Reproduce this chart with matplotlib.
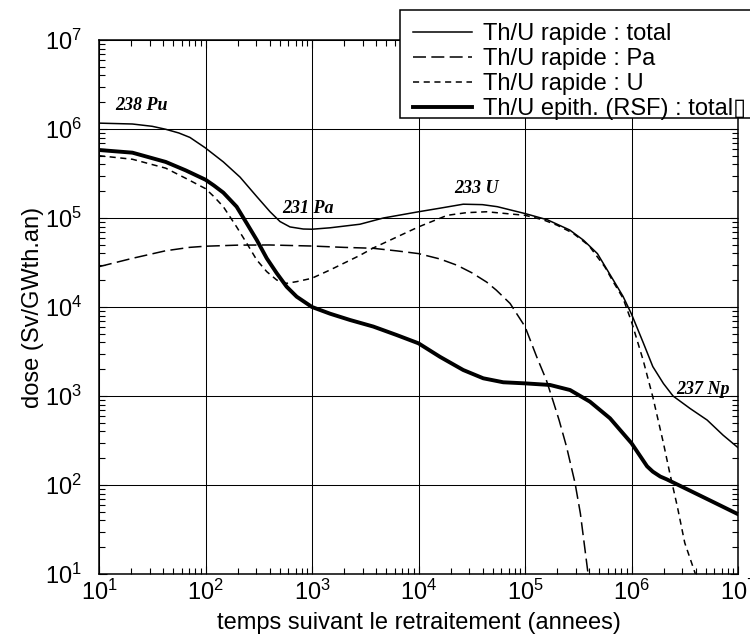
import matplotlib
matplotlib.use("Agg")
import matplotlib.pyplot as plt
from matplotlib.patches import Rectangle

plt.rcParams['font.family'] = ['Liberation Sans', 'DejaVu Sans']
plt.rcParams['mathtext.fontset'] = 'custom'
plt.rcParams['mathtext.rm'] = 'Liberation Sans'
plt.rcParams['mathtext.it'] = 'Liberation Sans:italic'
plt.rcParams['mathtext.bf'] = 'Liberation Sans:bold'

# ---- data (years, Sv/GWth.an) ----
t_total = [10, 20.6, 31.6, 42.3, 56.2, 71.4, 99, 147, 211, 303, 404, 501, 621, 828,
           1000, 1476, 2818, 4677, 1e4, 15850, 26300, 39810, 54950, 1e5, 162200,
           263000, 354800, 478600, 676100, 831800, 1e6, 1.288e6, 1.585e6, 1.995e6,
           2.455e6, 3.548e6, 5.129e6, 7.244e6, 1e7]
d_total = [1.164e6, 1.138e6, 1.072e6, 9.93e5, 9.02e5, 8.04e5, 6.17e5, 4.27e5, 2.88e5,
           1.74e5, 1.175e5, 9.12e4, 7.94e4, 7.52e4, 7.48e4, 7.76e4, 8.51e4, 1.0e5,
           1.175e5, 1.288e5, 1.429e5, 1.413e5, 1.340e5, 1.122e5, 9.55e4, 7.33e4,
           5.62e4, 3.98e4, 2.0e4, 1.32e4, 8.32e3, 3.98e3, 2.14e3, 1.38e3, 1.0e3,
           724, 537, 363, 263]

t_pa = [10, 20.6, 42.3, 70.8, 100, 200, 398, 1000, 1995, 3715, 6310, 1e4, 15850,
        22910, 31620, 43650, 53700, 72440, 1e5, 128800, 158500, 186200, 208900,
        245500, 295100, 331100, 398100]
d_pa = [28380, 35240, 42850, 46770, 48190, 49550, 49770, 48420, 46770, 45710, 42660,
        39810, 34670, 29510, 24270, 19050, 15490, 10960, 6026, 2754, 1514, 832, 537,
        269, 105, 47.9, 8.5]

t_u = [10, 20.6, 42.3, 65.2, 100, 120, 147, 196, 244, 303, 376, 467, 578, 718, 993,
       1476, 2818, 3715, 1e4, 18620, 28180, 43650, 1e5, 147900, 199500, 281800,
       398100, 562300, 676100, 831800, 1e6, 1.288e6, 1.585e6, 1.995e6, 2.291e6,
       2.692e6, 3.162e6, 3.981e6]
d_u = [501200, 457100, 363100, 279300, 213800, 173800, 134000, 79430, 52000, 33730,
       24950, 20090, 18450, 19280, 20990, 26060, 38020, 45710, 79430, 107200, 114800,
       117500, 107200, 95500, 83180, 67610, 48980, 28180, 19050, 12590, 6839, 2512,
       977, 295, 135, 57.5, 22.4, 10]

t_rsf = [10, 20.6, 42.3, 65.2, 100, 120, 147, 196, 244, 303, 376, 467, 578, 718, 1000,
         1476, 2275, 3767, 6237, 1e4, 15920, 26300, 40550, 62520, 1e5, 171800, 264900,
         407400, 628100, 1e6, 1.4e6, 1.585e6, 1.862e6, 2.138e6, 3.548e6, 5.821e6, 1e7]
d_rsf = [580800, 542000, 426600, 342800, 269200, 231700, 192800, 134000, 87100,
         56620, 35240, 23930, 16900, 13060, 10000, 8414, 7145, 6026, 4842, 3908, 2754,
         1959, 1581, 1426, 1387, 1330, 1167, 863, 562, 295, 162.2, 141.3, 124.5,
         115.9, 86.3, 64.6, 47.0]

labels = ["Th/U rapide : total", "Th/U rapide : Pa", "Th/U rapide : U",
          "Th/U epith. (RSF) : total\u25af"]

annotations = ["238 Pu", "231 Pa", "233 U", "237 Np"]
ann_t = [24.8, 916, 34700, 4.68e6]
ann_d = [1.82e6, 1.29e5, 2.12e5, 1175]

# ---- figure ----
fig = plt.figure(figsize=(7.5, 6.41), dpi=100)
ax = fig.add_axes([99/750, 1-574/641, (738-99)/750, (574-40)/641])
ax.set_xscale('log')
ax.set_yscale('log')
ax.set_xlim(10, 1e7)
ax.set_ylim(10, 1e7)

thin = 1.1
l1, = ax.plot(t_total, d_total, color='black', lw=thin, solid_joinstyle='round')
l2, = ax.plot(t_pa, d_pa, color='black', lw=thin, dashes=(8.5, 3.5))
l3, = ax.plot(t_u, d_u, color='black', lw=thin, dashes=(4, 3))
l4, = ax.plot(t_rsf, d_rsf, color='black', lw=2.8, solid_joinstyle='round')

for txt, x, y in zip(annotations, ann_t, ann_d):
    ax.text(x, y, txt, ha='center', va='center', fontsize=13,
            family='Liberation Serif', fontweight='bold', fontstyle='italic')

ax.grid(True, which='major', color='black', lw=0.75)
ax.tick_params(which='both', direction='in', top=True, right=True, labelsize=17)
ax.tick_params(which='major', length=6, width=0.8)
ax.tick_params(which='minor', length=4, width=0.8)
ax.tick_params(axis='x', pad=4)
ax.tick_params(axis='y', pad=12)
for s in ax.spines.values():
    s.set_linewidth(1.1)

ax.set_xlabel("temps suivant le retraitement (annees)", fontsize=17, labelpad=5)
ax.set_ylabel("dose (Sv/GWth.an)", fontsize=17, labelpad=1)

# legend box (extends past right edge as in original)
rect = Rectangle((400/750, 1-118/641), (770-400)/750, (118-10)/641,
                 transform=fig.transFigure, facecolor='white', edgecolor='black',
                 lw=1.1, zorder=5)
fig.patches.append(rect)
leg = fig.legend([l1, l2, l3, l4], labels, loc='upper left',
                 bbox_to_anchor=(413/750, 1-23/641), bbox_transform=fig.transFigure,
                 frameon=False, fontsize=17, handlelength=2.5, handletextpad=0.45,
                 labelspacing=0.13, borderpad=0.0, borderaxespad=0.0)
leg.set_zorder(6)

fig.savefig("out.png", dpi=100)
